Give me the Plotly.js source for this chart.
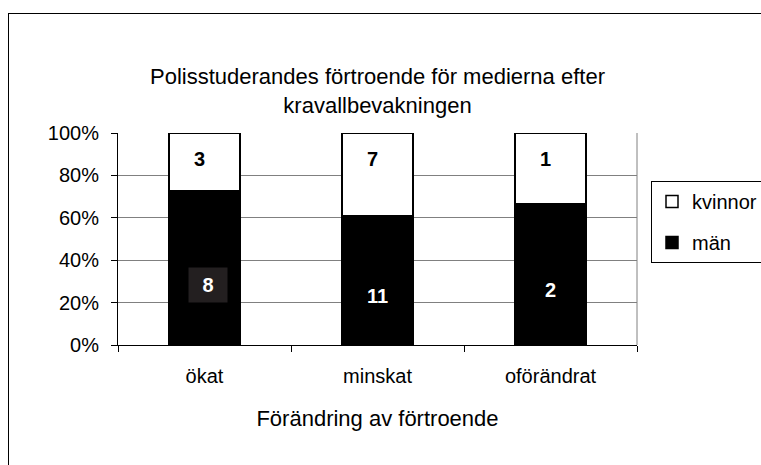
<!DOCTYPE html>
<html>
<head>
<meta charset="utf-8">
<script src="https://cdn.plot.ly/plotly-3.0.1.min.js"></script>
<style>
html,body{margin:0;padding:0;background:#fff;overflow:hidden;}
#wrap{position:relative;width:761px;height:465px;overflow:hidden;}
#chart{position:absolute;left:0;top:0;width:761px;height:465px;}
#frame{position:absolute;left:8px;top:13px;width:1000px;height:1000px;border-left:1px solid #000;border-top:1px solid #000;pointer-events:none;}
</style>
</head>
<body>
<div id="wrap"><div id="chart"></div><div id="frame"></div></div>
<script>
const categories = ['ökat', 'minskat', 'oförändrat'];
const man = [8, 11, 2];
const kvinnor = [3, 7, 1];
const yTickVals = [0, 20, 40, 60, 80, 100];
const yTickText = ['0%', '20%', '40%', '60%', '80%', '100%'];

const totals = man.map((m, i) => m + kvinnor[i]);
const manPct = man.map((m, i) => m / totals[i] * 100);
const kvPct = kvinnor.map((k, i) => k / totals[i] * 100);

const FONT = 'Liberation Sans, Arial, sans-serif';

const traces = [
  {
    type: 'bar', name: 'män', x: categories, y: manPct,
    marker: {color: '#000000', line: {color: '#000000', width: 1.5}},
    legendgroup: 'man', legendrank: 2, hoverinfo: 'skip'
  },
  {
    type: 'bar', name: 'kvinnor', x: categories, y: kvPct,
    marker: {color: '#ffffff', line: {color: '#000000', width: 1.5}},
    legendgroup: 'kv', legendrank: 1, hoverinfo: 'skip'
  }
];

const annotations = [];
categories.forEach((c, i) => {
  annotations.push({
    x: c, y: 100, xref: 'x', yref: 'y', text: '<b>' + kvinnor[i] + '</b>',
    showarrow: false, yanchor: 'middle', yshift: -26, xshift: -5,
    font: {family: FONT, size: 20, color: '#000'}
  });
  const a = {
    x: c, y: manPct[i] / 2, xref: 'x', yref: 'y', text: '<b>' + man[i] + '</b>',
    showarrow: false, yanchor: 'middle', yshift: -16,
    font: {family: FONT, size: 20, color: '#fff'}
  };
  if (i === 0) { a.bgcolor = '#231f20'; a.width = 38; a.height = 34; a.borderpad = 0; a.xshift = 3; a.yshift = -17; }
  annotations.push(a);
});

const layout = {
  width: 761, height: 465,
  margin: {l: 118, r: 124, t: 133, b: 120, autoexpand: false},
  paper_bgcolor: '#ffffff', plot_bgcolor: '#ffffff',
  barmode: 'stack', bargap: 0.59,
  font: {family: FONT, color: '#000'},
  title: {
    text: 'Polisstuderandes förtroende för medierna efter<br>kravallbevakningen',
    font: {family: FONT, size: 22, color: '#000'},
    x: 0.5, xref: 'paper', xanchor: 'center', y: 1 - 84/465, yanchor: 'middle', yref: 'container'
  },
  xaxis: {
    type: 'category', tickson: 'boundaries', ticks: 'outside', ticklen: 6, tickcolor: '#000',
    showline: true, linecolor: '#000', linewidth: 1, showgrid: false, zeroline: false,
    tickfont: {family: FONT, size: 20, color: '#000'},
    ticklabelstandoff: 13,
    title: {text: 'Förändring av förtroende', font: {family: FONT, size: 22, color: '#000'}, standoff: 24}
  },
  yaxis: {
    range: [0, 100], tickvals: yTickVals, ticktext: yTickText,
    ticks: 'outside', ticklen: 6, tickcolor: '#000',
    showline: true, linecolor: '#000', linewidth: 1,
    showgrid: true, gridcolor: '#808080', gridwidth: 1, zeroline: false,
    tickfont: {family: FONT, size: 20, color: '#000'},
    ticklabelstandoff: 8
  },
  yaxis2: {
    overlaying: 'y', side: 'left', range: [0, 100], tickvals: yTickVals,
    ticks: 'inside', ticklen: 4, tickcolor: '#000', showticklabels: false,
    showgrid: false, showline: false, zeroline: false
  },
  legend: {
    x: 651/761, xref: 'container', xanchor: 'left', y: 1 - 181/465, yref: 'container', yanchor: 'top',
    bgcolor: '#ffffff', bordercolor: '#000', borderwidth: 1,
    font: {family: FONT, size: 20, color: '#000'},
    traceorder: 'grouped', tracegroupgap: 12
  },
  shapes: [
    {type: 'line', xref: 'paper', yref: 'paper', x0: 1, x1: 1, y0: 0, y1: 1, line: {color: '#808080', width: 1}}
  ],
  annotations: annotations,
  showlegend: true
};

Plotly.newPlot('chart', traces, layout, {staticPlot: true, displayModeBar: false});
</script>
</body>
</html>
